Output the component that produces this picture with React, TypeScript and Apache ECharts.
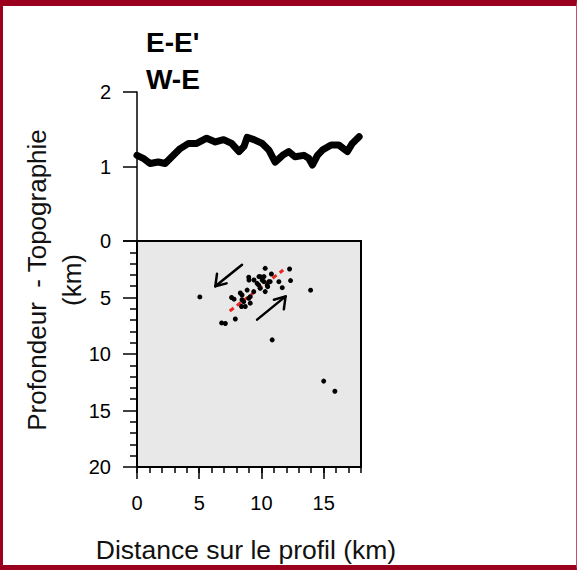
import { useEffect, useRef } from "react";
import * as echarts from "echarts";

const titleLines = ["E-E'", "W-E"];
const yTitleLines = ["Profondeur  - Topographie", "(km)"];
const xTitle = "Distance sur le profil (km)";

const xTicks = [0, 5, 10, 15];
const topoTicks = [0, 1, 2];
const depthTicks = [0, 5, 10, 15, 20];

// topography profile (km along profile, elevation km)
const topoDist = [0, 0.5, 1.05, 1.7, 2.26, 2.8, 3.47, 4.14, 4.8, 5.6, 6.3, 6.96, 7.6, 8.2, 8.6, 8.85, 9.4, 10.06, 10.6, 11.1, 11.7, 12.2, 12.7, 13.4, 13.8, 14.1, 14.5, 14.9, 15.6, 16.2, 16.9, 17.3, 17.85];
const topoElev = [1.15, 1.11, 1.04, 1.06, 1.04, 1.13, 1.24, 1.31, 1.31, 1.38, 1.33, 1.36, 1.31, 1.2, 1.27, 1.39, 1.36, 1.31, 1.22, 1.06, 1.15, 1.2, 1.13, 1.15, 1.11, 1.02, 1.15, 1.22, 1.29, 1.29, 1.2, 1.31, 1.4];

// earthquakes (distance km, depth km)
const eqDist = [5.05, 6.8, 7.1, 7.9, 7.6, 7.8, 10.86, 13.95, 15.0, 15.9, 10.3, 12.26, 12.34, 11.4, 11.67, 10.8, 9.0, 9.4, 10.06, 10.46, 9.9, 10.3, 9.65, 8.85, 8.44, 8.98, 8.57, 9.1, 8.7, 8.4, 9.38, 10.7, 10.2, 9.8, 8.98, 9.9, 10.2, 9.78, 10.6, 10.5, 8.3, 9.1, 8.44];
const eqDepth = [4.95, 7.25, 7.3, 6.9, 5.0, 5.15, 8.75, 4.35, 12.4, 13.3, 2.42, 2.48, 3.5, 3.6, 4.13, 2.92, 3.45, 3.45, 3.45, 3.9, 4.19, 4.48, 3.75, 4.34, 4.78, 5.07, 5.37, 5.5, 5.8, 5.8, 4.48, 3.6, 3.15, 3.15, 3.2, 3.16, 3.6, 3.9, 3.6, 4.04, 4.6, 4.93, 5.2];

// fault trace (red dashed)
const faultDist = [7.45, 11.75];
const faultDepth = [6.2, 2.57];

// slip arrows
const arrow1ShaftDist = [8.44, 6.29];
const arrow1ShaftDepth = [2.1, 4.01];
const arrow1HeadDist = [6.43, 6.29, 7.2];
const arrow1HeadDepth = [2.9, 4.01, 3.75];
const arrow2ShaftDist = [9.65, 11.94];
const arrow2ShaftDepth = [6.96, 4.9];
const arrow2HeadDist = [11.0, 11.94, 11.8];
const arrow2HeadDepth = [5.2, 4.9, 6.05];

const zip = (a: number[], b: number[]) => a.map((v, i) => [v, b[i]]);

const FONT = "'Liberation Sans', Arial, Helvetica, sans-serif";

export default function App() {
  const ref = useRef<HTMLDivElement>(null);
  useEffect(() => {
    if (!ref.current) return;
    const chart = echarts.init(ref.current, undefined, { renderer: "svg" });
    const black = { color: "#000", width: 1.5 };
    const labelStyle = { color: "#000", fontSize: 20, fontFamily: FONT };
    const arrowSeries = (d: number[], z: number[]) => ({
      type: "line",
      xAxisIndex: 2,
      yAxisIndex: 1,
      data: zip(d, z),
      showSymbol: false,
      symbol: "none",
      silent: true,
      lineStyle: { color: "#000", width: 2.5, cap: "round", join: "round" },
      z: 3,
    });
    chart.setOption({
      animation: false,
      backgroundColor: "transparent",
      title: {
        text: titleLines.join("\n"),
        left: 146,
        top: 24,
        padding: 0,
        textStyle: { fontSize: 28, fontWeight: "bold", fontFamily: FONT, color: "#000", lineHeight: 37 },
      },
      graphic: [
        {
          type: "text",
          x: 54,
          y: 280,
          rotation: Math.PI / 2,
          style: {
            text: yTitleLines.join("\n"),
            align: "center",
            verticalAlign: "middle",
            fontSize: 26,
            lineHeight: 35,
            fontFamily: FONT,
            fill: "#111",
          },
        },
        {
          type: "text",
          x: 246,
          y: 550,
          style: {
            text: xTitle,
            align: "center",
            verticalAlign: "middle",
            fontSize: 26.5,
            fontFamily: FONT,
            fill: "#111",
          },
        },
      ],
      grid: [
        { left: 137, top: 92, width: 224, height: 149, show: false },
        { left: 137, top: 241, width: 224, height: 226, show: true, backgroundColor: "#e8e8e8", borderColor: "#000", borderWidth: 2 },
      ],
      xAxis: [
        { gridIndex: 0, type: "value", min: 0, max: 18, show: false },
        {
          gridIndex: 1, type: "value", min: 0, max: 18, interval: 1, position: "bottom",
          axisLine: { show: false, onZero: false },
          axisTick: { show: true, length: 6, lineStyle: black },
          axisLabel: { show: false },
          splitLine: { show: false },
        },
        {
          gridIndex: 1, type: "value", min: 0, max: 18, interval: 5, position: "bottom",
          axisLine: { show: true, onZero: false, lineStyle: { color: "#000", width: 2 } },
          axisTick: { show: true, length: 12, customValues: xTicks, lineStyle: black },
          axisLabel: { customValues: xTicks, margin: 26, ...labelStyle },
          splitLine: { show: false },
        },
      ],
      yAxis: [
        {
          gridIndex: 0, type: "value", min: 0, max: 2, interval: 1,
          axisLine: { show: true, onZero: false, lineStyle: { color: "#000", width: 1.5 } },
          axisTick: { show: true, length: 14, customValues: topoTicks, lineStyle: black },
          axisLabel: { customValues: topoTicks, formatter: (v: number) => (v === 0 ? "" : String(v)), margin: 26, ...labelStyle },
          splitLine: { show: false },
        },
        {
          gridIndex: 1, type: "value", min: 0, max: 20, interval: 5, inverse: true,
          axisLine: { show: true, onZero: false, lineStyle: { color: "#000", width: 2 } },
          axisTick: { show: true, length: 14, customValues: depthTicks, lineStyle: black },
          minorTick: { show: true, splitNumber: 5, length: 7, lineStyle: black },
          axisLabel: { customValues: depthTicks, margin: 26, ...labelStyle },
          splitLine: { show: false },
          minorSplitLine: { show: false },
        },
      ],
      series: [
        {
          type: "line",
          xAxisIndex: 0,
          yAxisIndex: 0,
          data: zip(topoDist, topoElev),
          showSymbol: false,
          symbol: "none",
          silent: true,
          lineStyle: { color: "#000", width: 7, cap: "round", join: "round" },
        },
        {
          type: "line",
          xAxisIndex: 2,
          yAxisIndex: 1,
          data: zip(faultDist, faultDepth),
          showSymbol: false,
          symbol: "none",
          silent: true,
          lineStyle: { color: "#e8271d", width: 3, type: [5, 4] },
          z: 2,
        },
        arrowSeries(arrow1ShaftDist, arrow1ShaftDepth),
        arrowSeries(arrow1HeadDist, arrow1HeadDepth),
        arrowSeries(arrow2ShaftDist, arrow2ShaftDepth),
        arrowSeries(arrow2HeadDist, arrow2HeadDepth),
        {
          type: "scatter",
          xAxisIndex: 2,
          yAxisIndex: 1,
          data: zip(eqDist, eqDepth),
          symbol: "circle",
          symbolSize: 5,
          silent: true,
          itemStyle: { color: "#000", opacity: 1 },
          z: 4,
        },
      ],
    });
    return () => chart.dispose();
  }, []);
  return (
    <>
      <div
        style={{
          position: "absolute",
          left: 0,
          top: 0,
          width: 577,
          height: 570,
          boxSizing: "border-box",
          background: "#fff",
          borderTop: "6px solid #9b001f",
          borderLeft: "3px solid #9b001f",
          borderBottom: "5px solid #9b001f",
          borderRight: "1px solid #c4506c",
        }}
      />
      <div ref={ref} style={{ position: "absolute", left: 0, top: 0, width: 577, height: 570 }} />
    </>
  );
}
